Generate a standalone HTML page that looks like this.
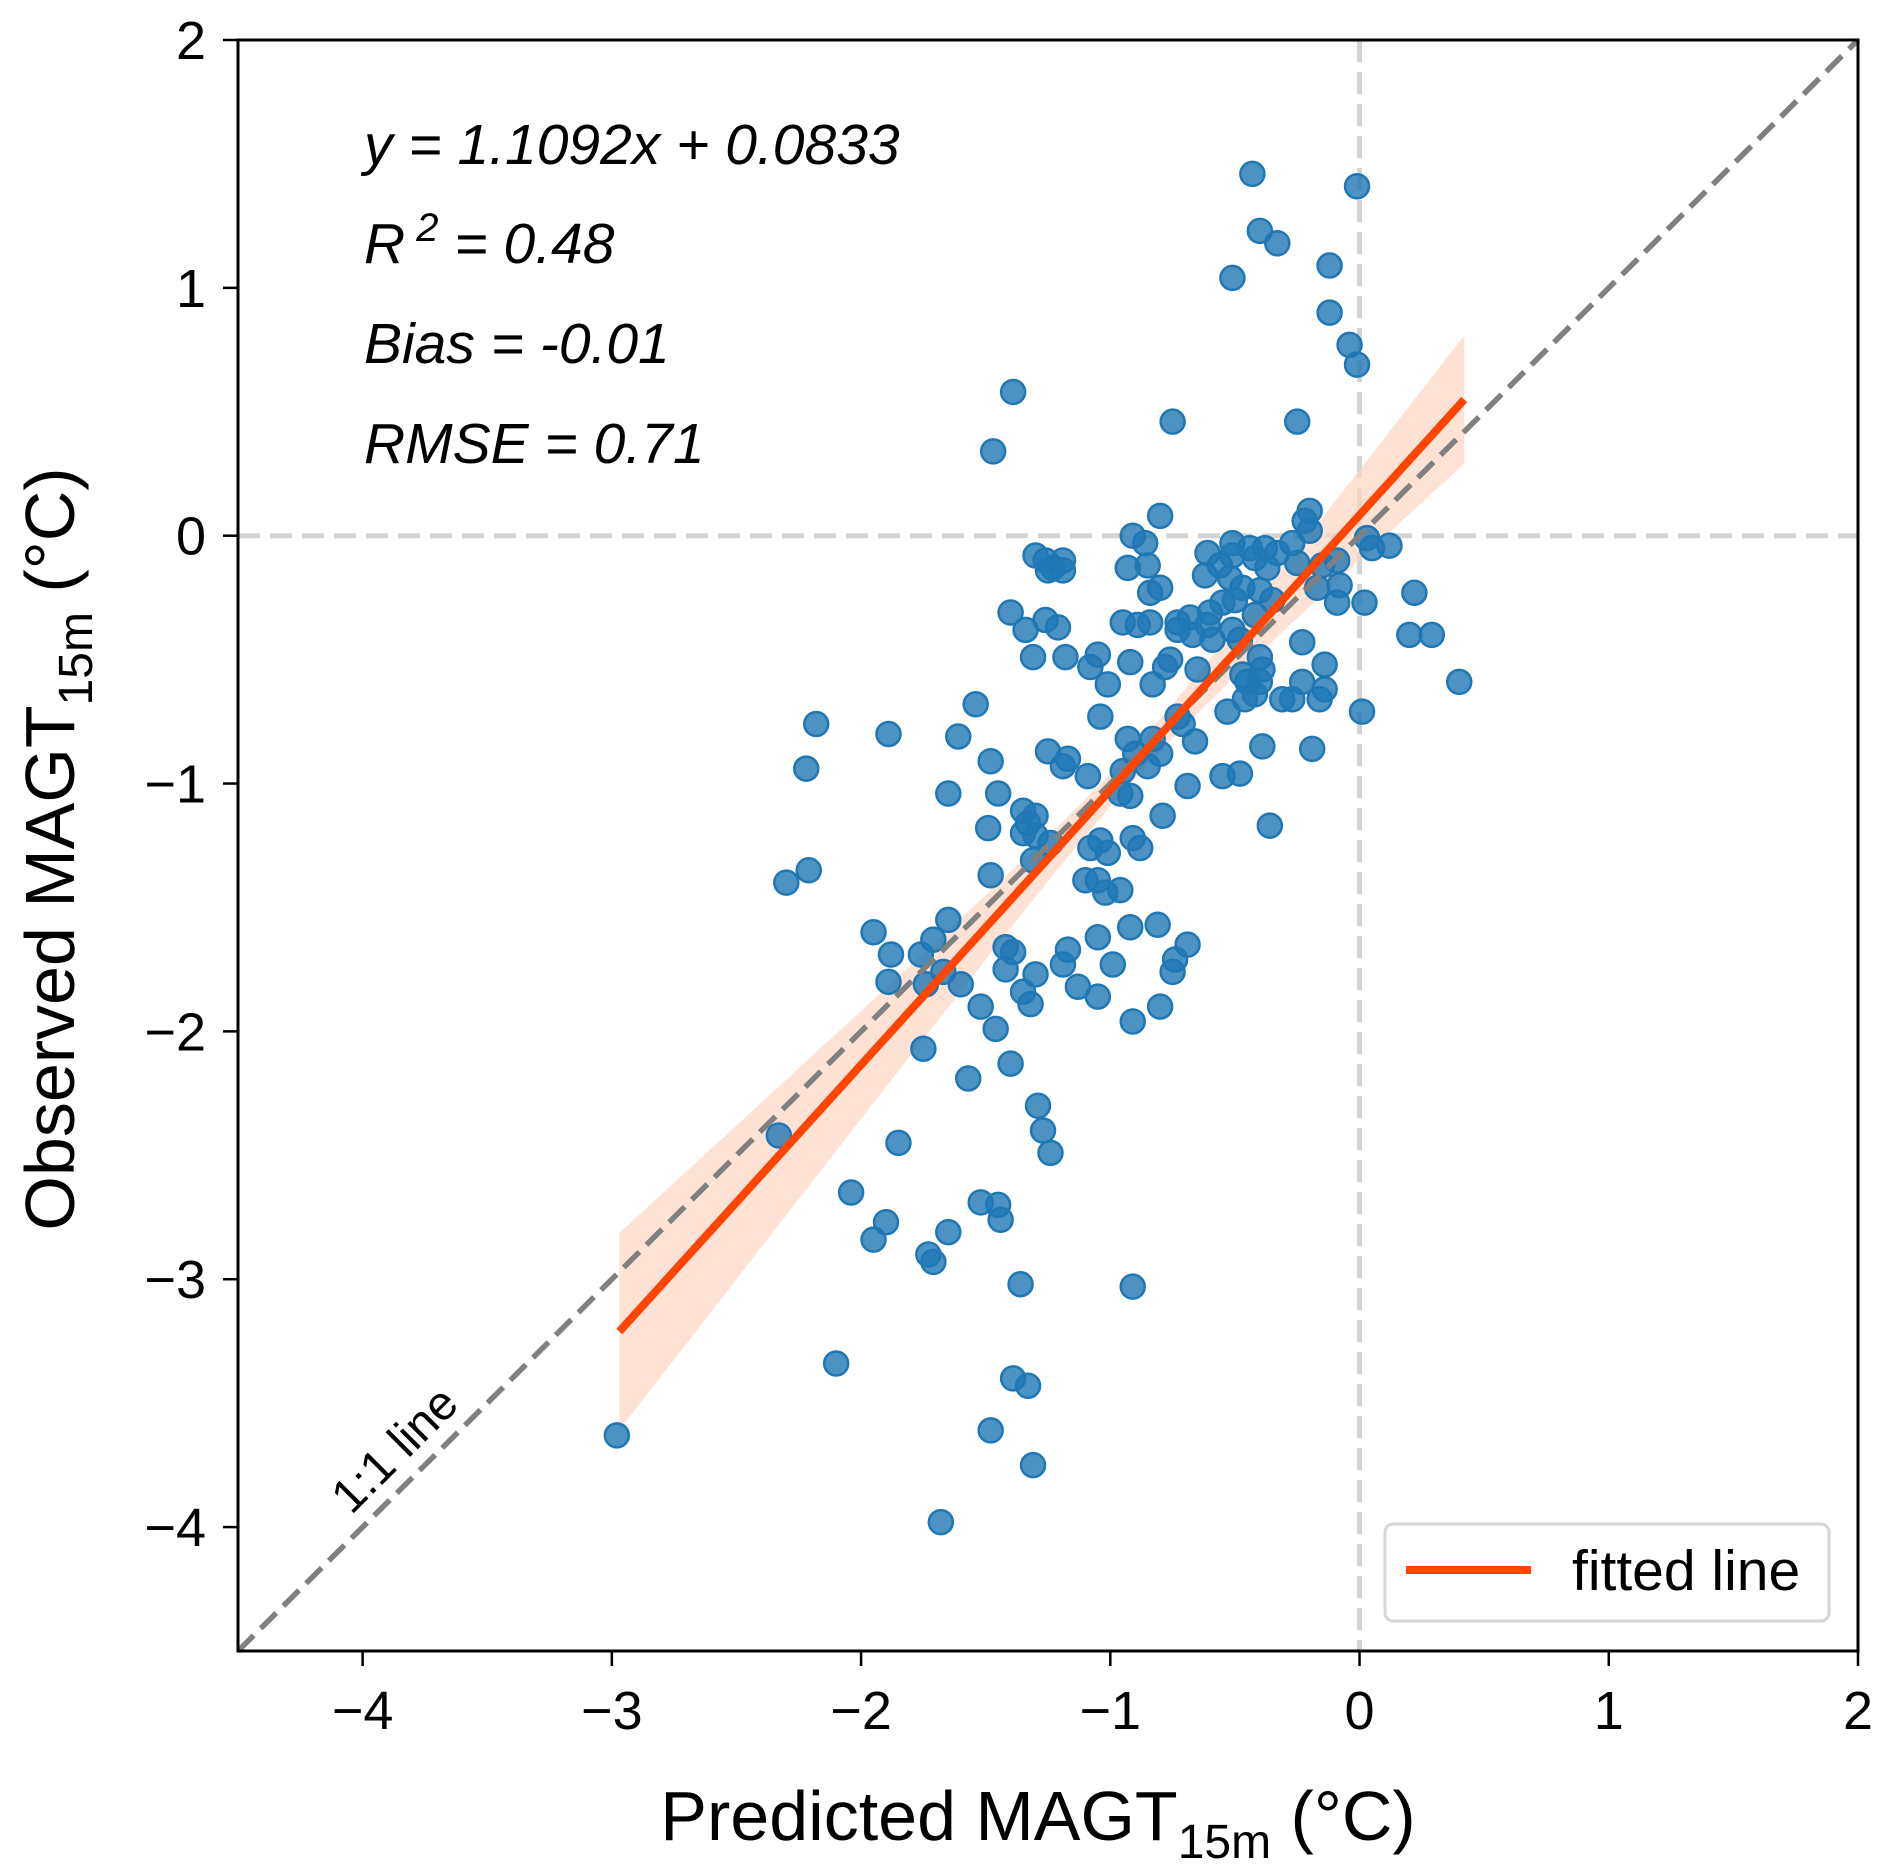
<!DOCTYPE html>
<html><head><meta charset="utf-8"><style>
html,body{margin:0;padding:0;background:#fff;}
svg{display:block;font-family:"Liberation Sans",Arial,sans-serif;}
</style></head><body>
<svg id="chart" width="1892" height="1873" viewBox="0 0 1892 1873" xmlns="http://www.w3.org/2000/svg">
<g id="marks"></g>
</svg>
<script>
const xTicks=[-4,-3,-2,-1,0,1,2];
const yTicks=[2,1,0,-1,-2,-3,-4];
const tickLabels=["\u22124","\u22123","\u22122","\u22121","0","1","2"];
const fitSlope=1.1092;
const fitIntercept=0.0833;
const fitRange=[-2.97,0.42];
const predicted=[-0.43,-0.01,-0.40,-0.33,-0.12,-0.51,-0.12,-0.04,-0.01,-1.39,-1.47,-0.75,-0.25,0.40,0.29,0.20,0.22,0.12,0.02,0.01,0.05,0.03,
-0.20,-0.22,-0.20,-0.27,-0.25,-0.15,-0.09,-0.08,-0.09,-0.17,-0.23,-0.14,-0.23,-0.14,-0.16,-0.27,-0.31,-0.19,-0.39,-0.36,-0.48,-0.55,-0.53,-0.46,-0.42,-0.40,-0.39,-0.45,-0.47,-0.40,-0.48,-0.51,-0.59,-0.61,-0.60,-0.55,-0.50,-0.47,-0.52,-0.56,-0.51,-0.51,-0.44,-0.38,-0.42,-0.37,-0.40,-0.35,-0.42,
-0.62,-0.68,-0.73,-0.67,-0.73,-0.76,-0.78,-0.65,-0.71,-0.66,-0.73,-0.69,-0.80,-0.84,-0.80,-0.85,-0.86,-0.91,-0.93,-0.95,-0.89,-0.84,-0.92,-0.83,-1.01,-0.93,-0.83,-0.80,-0.85,-0.90,-0.95,-0.96,-0.92,-0.79,-0.91,-0.88,-1.01,-1.04,-1.08,-1.10,-1.05,-1.02,-0.96,-0.92,-0.81,-0.69,-0.74,-0.75,-0.80,-0.91,-1.05,-0.99,-1.05,-1.13,-1.17,-1.19,-0.91,
-1.05,-1.08,-1.04,-1.17,-1.19,-1.09,-1.25,-1.18,-1.21,-1.26,-1.34,-1.40,-1.31,-1.19,-1.23,-1.25,-1.30,-1.19,-1.26,-1.54,-1.61,-1.48,-1.45,-1.65,-1.35,-1.33,-1.30,-1.35,-1.49,-1.30,-1.31,-1.48,-1.24,
-1.65,-1.71,-1.76,-1.88,-1.95,-1.89,-1.74,-1.67,-1.60,-1.42,-1.39,-1.42,-1.30,-1.35,-1.32,-1.52,-1.46,-1.75,-1.40,-1.57,-1.29,-1.27,-1.24,-1.85,-2.33,-2.04,-1.52,-1.45,-1.44,-1.90,-1.95,-1.65,-1.73,-1.71,-1.36,-2.10,-1.39,-1.33,-2.98,-1.48,-1.31,-1.68,-2.30,-2.21,-2.22,-2.18,-1.89,-0.33,-0.61];
const observed=[1.46,1.41,1.23,1.18,1.09,1.04,0.90,0.77,0.69,0.58,0.34,0.46,0.46,-0.59,-0.40,-0.40,-0.23,-0.04,-0.27,-0.71,-0.05,-0.01,
0.10,0.06,0.02,-0.03,-0.11,-0.12,-0.10,-0.20,-0.27,-0.21,-0.43,-0.52,-0.59,-0.62,-0.66,-0.66,-0.66,-0.86,-0.85,-1.17,-0.96,-0.97,-0.71,-0.66,-0.64,-0.59,-0.54,-0.59,-0.56,-0.49,-0.42,-0.38,-0.42,-0.36,-0.31,-0.27,-0.26,-0.21,-0.17,-0.12,-0.08,-0.03,-0.05,-0.05,-0.09,-0.13,-0.22,-0.26,-0.32,
-0.16,-0.33,-0.35,-0.40,-0.38,-0.50,-0.53,-0.54,-0.76,-0.83,-0.73,-1.01,0.08,-0.23,-0.21,-0.12,-0.03,0.00,-0.13,-0.35,-0.36,-0.35,-0.51,-0.60,-0.60,-0.82,-0.82,-0.88,-0.93,-0.88,-0.95,-1.04,-1.05,-1.13,-1.22,-1.26,-1.28,-1.23,-1.26,-1.39,-1.39,-1.44,-1.43,-1.58,-1.57,-1.65,-1.71,-1.76,-1.90,-1.96,-1.62,-1.73,-1.86,-1.82,-1.67,-1.73,-3.03,
-0.48,-0.53,-0.73,-0.90,-0.93,-0.97,-0.87,-0.49,-0.37,-0.34,-0.38,-0.31,-0.49,-0.10,-0.13,-0.14,-0.08,-0.14,-0.10,-0.68,-0.81,-0.91,-1.04,-1.04,-1.11,-1.16,-1.13,-1.20,-1.18,-1.21,-1.31,-1.37,-1.24,
-1.55,-1.63,-1.69,-1.69,-1.60,-1.80,-1.81,-1.76,-1.81,-1.66,-1.68,-1.75,-1.77,-1.84,-1.89,-1.90,-1.99,-2.07,-2.13,-2.19,-2.30,-2.40,-2.49,-2.45,-2.42,-2.65,-2.69,-2.70,-2.76,-2.77,-2.84,-2.81,-2.90,-2.93,-3.02,-3.34,-3.40,-3.43,-3.63,-3.61,-3.75,-3.98,-1.40,-1.35,-0.94,-0.76,-0.80,-0.07,-0.07];

const NS="http://www.w3.org/2000/svg";
const svg=document.getElementById('chart');
const L=238,R=1858,T=40,B=1651;
function sx(v){return L+(v+4.5)/6.5*(R-L);}
function sy(v){return T+(2-v)/6.5*(B-T);}
function mk(tag,attrs,parent){const e=document.createElementNS(NS,tag);for(const k in attrs)e.setAttribute(k,attrs[k]);(parent||svg).appendChild(e);return e;}

let g0=mk('g',{});


mk('line',{x1:sx(0),y1:T,x2:sx(0),y2:B,stroke:'#d3d3d3','stroke-width':5,'stroke-dasharray':'22 10'},g0);
mk('line',{x1:L,y1:sy(0),x2:R,y2:sy(0),stroke:'#d3d3d3','stroke-width':5,'stroke-dasharray':'22 10'},g0);

const xm=-0.9;
function hw(x){return Math.sqrt(0.004+0.036*(x-xm)*(x-xm));}
let up=[],dn=[];
for(let i=0;i<=60;i++){const x=fitRange[0]+(fitRange[1]-fitRange[0])*i/60;const y=fitSlope*x+fitIntercept;up.push(sx(x)+','+sy(y+hw(x)));dn.unshift(sx(x)+','+sy(y-hw(x)));}
let band=mk('polygon',{points:up.concat(dn).join(' '),fill:'#fdd5c3','fill-opacity':0.7});



let pg=mk('g',{});


for(let i=0;i<predicted.length;i++){
  const c=mk('circle',{cx:sx(predicted[i]),cy:sy(observed[i]),r:12,fill:'#1f77b4','fill-opacity':0.8,stroke:'#1f77b4','stroke-width':2.5},pg);
  
  
}

let oo=mk('line',{x1:sx(-4.5),y1:sy(-4.5),x2:sx(2),y2:sy(2),stroke:'#808080','stroke-width':5.5,'stroke-dasharray':'22 10'});



let fl=mk('line',{x1:sx(fitRange[0]),y1:sy(fitSlope*fitRange[0]+fitIntercept),x2:sx(fitRange[1]),y2:sy(fitSlope*fitRange[1]+fitIntercept),stroke:'#ff4500','stroke-width':8});



let fr=mk('rect',{x:L,y:T,width:R-L,height:B-T,fill:'none',stroke:'#000','stroke-width':3});



xTicks.forEach((v,i)=>{
  mk('line',{x1:sx(v),y1:B,x2:sx(v),y2:B+15,stroke:'#000','stroke-width':2.5});
  const t=mk('text',{x:sx(v),y:B+78,'text-anchor':'middle','font-size':54,fill:'#000'});
  t.textContent=tickLabels[i];
  
  
});
yTicks.forEach(v=>{
  mk('line',{x1:L-15,y1:sy(v),x2:L,y2:sy(v),stroke:'#000','stroke-width':2.5});
  const idx=xTicks.indexOf(v);
  const t=mk('text',{x:L-32,y:sy(v)+19,'text-anchor':'end','font-size':54,fill:'#000'});
  t.textContent=tickLabels[idx];
  
  
});
</script>
<svg style="position:absolute;left:0;top:0" width="1892" height="1873" xmlns="http://www.w3.org/2000/svg">
<g font-family="Liberation Sans, Arial, sans-serif" fill="#000">
<text x="364" y="164" font-size="57" font-style="italic">y = 1.1092x + 0.0833</text>
<text x="364" y="263" font-size="57" font-style="italic">R<tspan dy="-22" font-size="40"> 2</tspan><tspan dy="22"> = 0.48</tspan></text>
<text x="364" y="363" font-size="57" font-style="italic">Bias = -0.01</text>
<text x="364" y="463" font-size="57" font-style="italic">RMSE = 0.71</text>
<text x="394" y="1466" font-size="48" text-anchor="middle" transform="rotate(-45 394 1449)">1:1 line</text>
<text x="1038" y="1840" font-size="70" text-anchor="middle">Predicted MAGT<tspan font-size="48" dy="18">15m</tspan><tspan dy="-18"> (°C)</tspan></text>
<text x="0" y="0" font-size="70" text-anchor="middle" transform="translate(74 849) rotate(-90)">Observed MAGT<tspan font-size="48" dy="18">15m</tspan><tspan dy="-18"> (°C)</tspan></text>
<g>
<rect x="1385" y="1524" width="444" height="97" rx="8" fill="#fff" stroke="#d6d6d6" stroke-width="3"/>
<line x1="1406" y1="1570" x2="1531" y2="1570" stroke="#ff4500" stroke-width="8"/>
<text x="1572" y="1590" font-size="57">fitted line</text>
</g>
</g>
</svg>
</body></html>
